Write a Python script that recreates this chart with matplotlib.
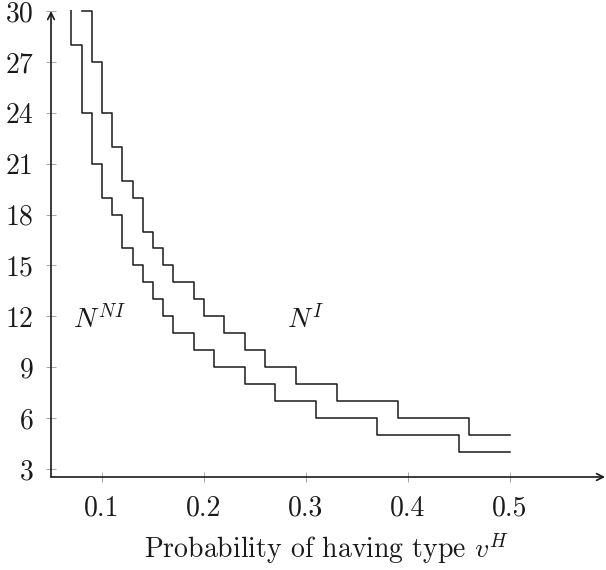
import matplotlib
matplotlib.use("Agg")
import matplotlib.pyplot as plt

# Data (step functions, value holds until next x)
x_ni = [0.06, 0.07, 0.08, 0.09, 0.10, 0.11, 0.12, 0.13, 0.14, 0.15, 0.16, 0.17,
        0.19, 0.21, 0.24, 0.27, 0.31, 0.37, 0.45, 0.50]
y_ni = [32, 28, 24, 21, 19, 18, 16, 15, 14, 13, 12, 11, 10, 9, 8, 7, 6, 5, 4, 4]

x_i = [0.08, 0.09, 0.10, 0.11, 0.12, 0.13, 0.14, 0.15, 0.16, 0.17, 0.19, 0.20,
       0.22, 0.24, 0.26, 0.29, 0.33, 0.39, 0.46, 0.50]
y_i = [30, 27, 24, 22, 20, 19, 17, 16, 15, 14, 13, 12, 11, 10, 9, 8, 7, 6, 5, 5]

xticks = [0.1, 0.2, 0.3, 0.4, 0.5]
xticklabels = ["0.1", "0.2", "0.3", "0.4", "0.5"]
yticks = [3, 6, 9, 12, 15, 18, 21, 24, 27, 30]
yticklabels = [str(v) for v in yticks]

plt.rcParams['font.family'] = 'serif'
plt.rcParams['font.serif'] = ['cmr10']
plt.rcParams['mathtext.fontset'] = 'cm'
plt.rcParams['axes.formatter.use_mathtext'] = True

fig = plt.figure(figsize=(6.06, 5.70), dpi=100)
ax = fig.add_axes([51/606, 93/570, 550.8/606, 467.4/570])

ax.step(x_ni, y_ni, where='post', color='#1a1a1a', lw=1.1)
ax.step(x_i, y_i, where='post', color='#1a1a1a', lw=1.1)

ax.set_xlim(0.05, 0.59)
ax.set_ylim(2.53, 30.08)

for s in ax.spines.values():
    s.set_visible(False)

# axis lines with arrows
ax.annotate('', xy=(1.006, 0), xytext=(0, 0), xycoords='axes fraction',
            arrowprops=dict(arrowstyle='->', lw=1.2, color='#1a1a1a',
                            shrinkA=0, shrinkB=0, mutation_scale=12),
            annotation_clip=False)
ax.annotate('', xy=(0, 0.997), xytext=(0, 0), xycoords='axes fraction',
            arrowprops=dict(arrowstyle='->', lw=1.2, color='#1a1a1a',
                            shrinkA=0, shrinkB=0, mutation_scale=12),
            annotation_clip=False)

ax.set_xticks(xticks)
ax.set_xticklabels(xticklabels)
ax.set_yticks(yticks)
ax.set_yticklabels(yticklabels)
ax.tick_params(direction='inout', length=7.5, width=0.6, color='#999999',
               labelsize=20, pad=9, labelcolor='#1a1a1a')

ax.set_xlabel(r'Probability of having type $v^H$', fontsize=20, labelpad=8,
              color='#1a1a1a')

ax.text(0.0716, 11.31, r'$N^{NI}$', fontsize=20, ha='left', va='baseline',
        color='#1a1a1a')
ax.text(0.2814, 11.31, r'$N^{I}$', fontsize=20, ha='left', va='baseline',
        color='#1a1a1a')

fig.savefig('out.png', dpi=100)
